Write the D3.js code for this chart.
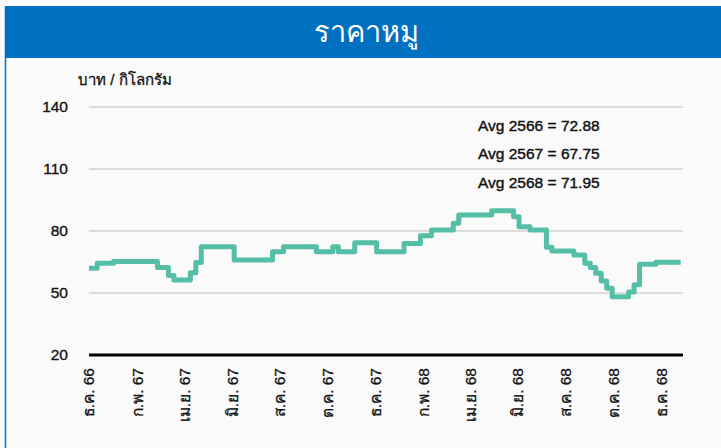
<!DOCTYPE html>
<html>
<head>
<meta charset="utf-8">
<script src="https://cdn.jsdelivr.net/npm/d3@7"></script>
<style>
  body { margin: 0; background: #fafafa; font-family: "Liberation Sans", Arial, sans-serif; }
</style>
</head>
<body>
<svg id="chart" width="721" height="448"></svg>
<script>
/*global d3*/

// weekly pig price (baht / kg), first week starts Dec 2023
var startDate = new Date(2023, 11, 1);
var weeklyPrice = [
  62.0, 62.0, 64.4, 64.4, 64.4, 65.2, 65.2, 65.2, 65.2, 65.2,
  65.2, 65.2, 65.2, 62.3, 62.3, 58.5, 56.3, 56.3, 56.3, 59.8,
  64.8, 72.4, 72.4, 72.4, 72.4, 72.4, 72.4, 66.0, 66.0, 66.0,
  66.0, 66.0, 66.0, 66.0, 70.0, 70.0, 72.4, 72.4, 72.4, 72.4,
  72.4, 72.4, 70.0, 70.0, 70.0, 72.4, 70.0, 70.0, 70.0, 74.3,
  74.3, 74.3, 74.3, 70.0, 70.0, 70.0, 70.0, 70.0, 74.0, 74.0,
  74.0, 77.7, 77.7, 80.5, 80.5, 80.5, 80.5, 83.7, 87.7, 87.7,
  87.7, 87.7, 87.7, 87.7, 89.8, 89.8, 89.8, 89.8, 86.9, 82.1,
  82.1, 80.5, 80.5, 80.5, 72.1, 70.3, 70.3, 70.3, 70.3, 68.4,
  68.4, 64.4, 62.3, 59.5, 55.8, 52.3, 48.2, 48.2, 48.2, 50.5,
  54.0, 63.9, 63.9, 63.9, 64.9, 64.9, 64.9, 64.9, 64.9
];
var tickLabels = ["ธ.ค. 66", "ก.พ. 67", "เม.ย. 67", "มิ.ย. 67", "ส.ค. 67", "ต.ค. 67", "ธ.ค. 67",
                  "ก.พ. 68", "เม.ย. 68", "มิ.ย. 68", "ส.ค. 68", "ต.ค. 68", "ธ.ค. 68"];
var yTicks = [20, 50, 80, 110, 140];
var avgLabels = ["Avg 2566 = 72.88", "Avg 2567 = 67.75", "Avg 2568 = 71.95"];
var titleText = "ราคาหมู";
var unitText = "บาท / กิโลกรัม";

var svg = d3.select("#chart");

// panel border (left side shows) + title bar
svg.append("line")
  .attr("x1", 5.5).attr("x2", 5.5).attr("y1", 6).attr("y2", 448)
  .attr("stroke", "#0070c0").attr("stroke-width", 1.5);
svg.append("rect")
  .attr("x", 5).attr("y", 6).attr("width", 716).attr("height", 52)
  .attr("fill", "#0070c0");
svg.append("text")
  .attr("x", 366).attr("y", 42)
  .attr("text-anchor", "middle")
  .attr("fill", "#fff")
  .attr("font-size", 29)
  .text(titleText);

var data = weeklyPrice.map(function(v, i){
  return { date: d3.timeWeek.offset(startDate, i), value: v };
});

var x = d3.scaleTime()
  .domain([startDate, new Date(2025, 11, 29)])
  .range([89, 683]);
var y = d3.scaleLinear()
  .domain([20, 140])
  .range([355, 107]);

// grid lines
svg.append("g")
  .selectAll("line")
  .data(yTicks.slice(1))
  .enter()
  .append("line")
    .attr("x1", 89).attr("x2", 683)
    .attr("y1", d => y(d)).attr("y2", d => y(d))
    .attr("stroke", "#bdbdbd").attr("stroke-width", 1);

// y labels
svg.append("g")
  .selectAll("text")
  .data(yTicks)
  .enter()
  .append("text")
    .attr("x", 68)
    .attr("y", d => y(d))
    .attr("dy", "0.35em")
    .attr("text-anchor", "end")
    .attr("font-size", 15.5)
    .attr("fill", "#111")
    .attr("stroke", "#111").attr("stroke-width", 0.35)
    .text(d => d);

svg.append("text")
  .attr("x", 78).attr("y", 85)
  .attr("font-size", 15)
  .attr("fill", "#111")
  .attr("stroke", "#111").attr("stroke-width", 0.3)
  .text(unitText);

// x axis base
svg.append("line")
  .attr("x1", 89).attr("x2", 683)
  .attr("y1", y(20)).attr("y2", y(20))
  .attr("stroke", "#000").attr("stroke-width", 3);

// rotated month labels every 2 months
var tickDates = tickLabels.map((t, i) => d3.timeMonth.offset(startDate, 2 * i));
svg.append("g")
  .selectAll("text")
  .data(tickDates)
  .enter()
  .append("text")
    .attr("transform", d => `translate(${x(d)},368) rotate(-90)`)
    .attr("dy", "0.35em")
    .attr("text-anchor", "end")
    .attr("font-size", 15.5)
    .attr("fill", "#111")
    .attr("stroke", "#111").attr("stroke-width", 0.3)
    .text((d, i) => tickLabels[i]);

// price line
var line = d3.line()
  .curve(d3.curveStep)
  .x(d => x(d.date))
  .y(d => y(d.value));
svg.append("path")
  .datum(data)
  .attr("d", line)
  .attr("fill", "none")
  .attr("stroke", "#55bea6")
  .attr("stroke-width", 5)
  .attr("stroke-linejoin", "round")
  .attr("stroke-linecap", "butt");

// averages
svg.append("g")
  .selectAll("text")
  .data(avgLabels)
  .enter()
  .append("text")
    .attr("x", 478)
    .attr("y", (d, i) => 130.5 + i * 28.5)
    .attr("font-size", 15.5)
    .attr("fill", "#111")
    .attr("stroke", "#111").attr("stroke-width", 0.4)
    .text(d => d);
</script>
</body>
</html>
